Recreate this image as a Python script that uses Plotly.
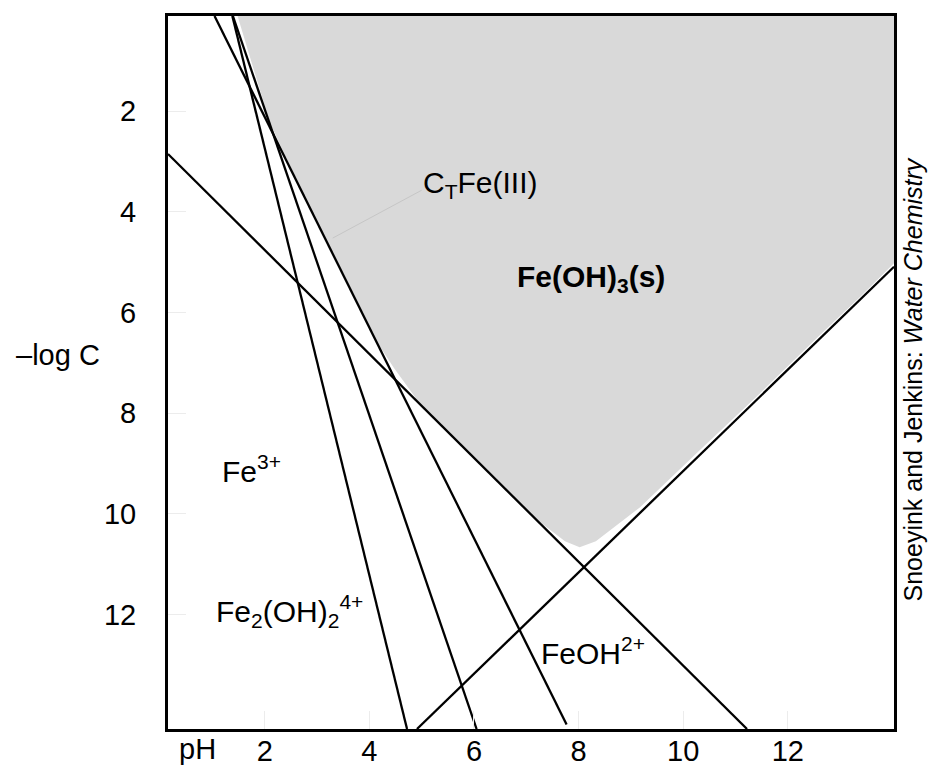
import plotly.graph_objects as go

# Lines: pH vs -log C
ph_fe3 = [1.39, 6.05]
logc_fe3 = [0.11, 14.27]
ph_fe2oh2 = [1.38, 4.72]
logc_fe2oh2 = [0.11, 14.27]
ph_feoh = [1.04, 7.77]
logc_feoh = [0.11, 14.18]
ph_feoh2 = [0.15, 11.22]
logc_feoh2 = [2.85, 14.27]
ph_feoh4 = [4.91, 14.03]
logc_feoh4 = [14.27, 5.09]

# Fe(OH)3(s) region bounded by C_T Fe(III)
ph_solid = [1.48, 2.10, 2.67, 3.43, 4.16, 4.47, 4.96, 6.11, 7.26, 7.74, 8.02,
            8.33, 9.17, 10.32, 11.47, 12.61, 13.38, 14.03, 14.03]
logc_solid = [0.11, 2.24, 3.49, 5.08, 6.61, 7.10, 7.80, 8.99, 10.16, 10.54, 10.66,
              10.54, 9.87, 8.73, 7.60, 6.45, 5.69, 5.02, 0.11]

# leader from the C_T label to the curve
ph_leader = [5.0, 3.30]
logc_leader = [3.57, 4.52]

tick_vals = [2, 4, 6, 8, 10, 12]
tick_text = ["2", "4", "6", "8", "10", "12"]

FONT = "Liberation Sans, Arial, sans-serif"

fig = go.Figure()

fig.add_trace(go.Scatter(x=ph_solid, y=logc_solid, fill="toself", fillcolor="#d9d9d9",
                         mode="none", hoverinfo="skip"))
fig.add_trace(go.Scatter(x=ph_leader, y=logc_leader, mode="lines",
                         line=dict(color="#c6c6c6", width=1)))

for xs, ys in [(ph_fe3, logc_fe3), (ph_fe2oh2, logc_fe2oh2), (ph_feoh, logc_feoh),
               (ph_feoh2, logc_feoh2), (ph_feoh4, logc_feoh4)]:
    fig.add_trace(go.Scatter(x=xs, y=ys, mode="lines", line=dict(color="black", width=2.3)))

labels = [
    (4.99, 3.45, "C<sub>T</sub>Fe(III)"),
    (6.78, 5.33, "<b>Fe(OH)<sub>3</sub>(s)</b>"),
    (1.15, 9.10, "Fe<sup>3+</sup>"),
    (1.02, 11.92, "Fe<sub>2</sub>(OH)<sub>2</sub><sup>4+</sup>"),
    (7.24, 12.72, "FeOH<sup>2+</sup>"),
]
for lx, ly, txt in labels:
    fig.add_annotation(x=lx, y=ly, text=txt, showarrow=False, xanchor="left",
                       yanchor="middle", font=dict(size=30, color="black", family=FONT))

fig.add_annotation(xref="paper", yref="paper", x=0.04, y=-0.028, text="pH",
                   showarrow=False, xanchor="center", yanchor="middle",
                   font=dict(size=29, color="black", family=FONT))
fig.add_annotation(xref="paper", yref="paper", x=-0.091, y=0.524, text="\u2013log C",
                   showarrow=False, xanchor="right", yanchor="middle",
                   font=dict(size=29, color="black", family=FONT))
fig.add_annotation(xref="paper", yref="paper", x=1.026, y=0.49,
                   text="Snoeyink and Jenkins: <i>Water Chemistry</i>", textangle=-90,
                   showarrow=False, xanchor="center", yanchor="middle",
                   font=dict(size=25, color="black", family=FONT))

axis_style = dict(showline=True, linecolor="black", linewidth=3, mirror=True,
                  showgrid=False, zeroline=False, automargin=False,
                  ticks="inside", ticklen=18, tickcolor="#ececec", tickwidth=1,
                  tickvals=tick_vals, ticktext=tick_text,
                  tickfont=dict(size=29, color="black", family=FONT))

fig.update_xaxes(range=[0.15, 14.03], ticklabelstandoff=-6, **axis_style)
fig.update_yaxes(range=[14.27, 0.11], ticklabelstandoff=23, **axis_style)

fig.update_layout(width=930, height=772, showlegend=False,
                  margin=dict(l=168, r=36, t=16, b=43),
                  paper_bgcolor="white", plot_bgcolor="white",
                  font=dict(family=FONT, color="black"))

# drop the default page margin so the figure sits at the window's corner
fig.write_html("out.html", config={"displayModeBar": False},
               post_script="document.body.style.margin='0';")
